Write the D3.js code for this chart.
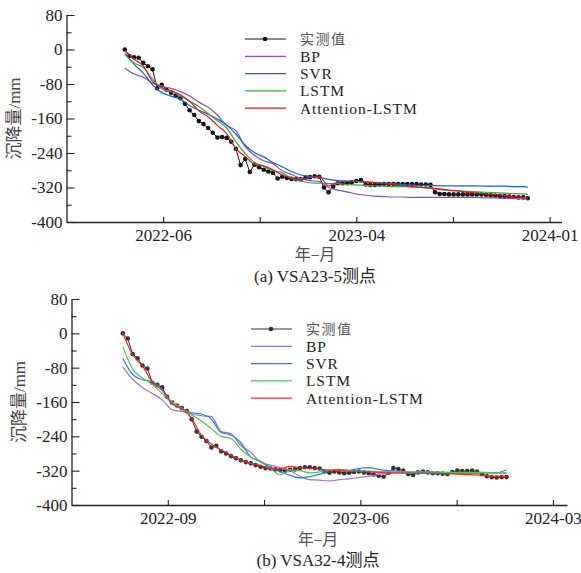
<!DOCTYPE html>
<html>
<head>
<meta charset="utf-8">
<script src="https://cdn.jsdelivr.net/npm/d3@7"></script>
<style>
  body { margin: 0; background: #fff; }
</style>
</head>
<body>
<script>
// ---- data (days relative to the first labelled tick) ----
let seriesNames = ["实测值", "BP", "SVR", "LSTM", "Attention-LSTM"];

// panel (a) VSA23-5
let tickDaysA = [0, 146, 292, 438, 584];
let tickLabelsA = ["2022-06", "", "2023-04", "", "2024-01"];
let measDaysA = d3.range(-58, 552, 7);
let measuredA = [0, -15, -18, -19, -31, -39, -46, -90, -82, -93,
  -100, -107, -113, -126, -141, -152, -166, -173, -182, -193,
  -204, -203, -205, -214, -230, -268, -254, -284, -267, -273,
  -279, -283, -286, -299, -295, -298, -300, -301, -301, -298,
  -296, -294, -295, -320, -331, -318, -310, -310, -310, -308,
  -305, -303, -313, -314, -314, -313, -312, -312, -312, -312,
  -312, -312, -312, -312, -313, -313, -314, -331, -335, -335,
  -336, -336, -336, -336, -336, -336, -336, -336, -337, -338,
  -339, -340, -340, -341, -342, -343, -343, -345];
let modelDaysA = d3.range(-58, 545, 14).concat([551]);
let bpA = [-43, -57, -64, -78, -85, -90, -97, -108, -122, -134,
  -152, -176, -188, -225, -245, -258, -265, -281, -290, -299,
  -304, -306, -320, -326, -330, -335, -338, -340, -341, -342,
  -342, -343, -343, -343, -343, -343, -343, -343, -343, -344,
  -344, -345, -345, -346, -347];
let svrA = [-8, -34, -55, -82, -100, -108, -115, -130, -141, -150,
  -161, -175, -196, -222, -239, -249, -262, -272, -283, -291,
  -294, -297, -301, -304, -305, -306, -307, -308, -310, -311,
  -313, -314, -315, -315, -316, -316, -316, -316, -316, -317,
  -317, -317, -318, -318, -319];
let lstmA = [-12, -31, -42, -68, -91, -98, -108, -120, -132, -149,
  -165, -182, -214, -241, -262, -271, -281, -286, -299, -305,
  -309, -310, -311, -311, -313, -314, -315, -316, -317, -318,
  -318, -319, -320, -322, -325, -327, -328, -329, -330, -331,
  -332, -333, -334, -335, -336];
let attA = [-2, -22, -38, -74, -88, -95, -105, -120, -142, -156,
  -176, -195, -230, -248, -266, -270, -279, -291, -297, -302,
  -297, -295, -316, -308, -306, -306, -307, -309, -311, -314,
  -316, -318, -320, -321, -323, -326, -328, -331, -333, -335,
  -336, -339, -341, -343, -345];

// panel (b) VSA32-4
let tickDaysB = [0, 137, 274, 411, 548];
let tickLabelsB = ["2022-09", "", "2023-06", "", "2024-03"];
let measDaysB = d3.range(-64, 483, 7);
let measuredB = [0, -12, -48, -58, -75, -82, -115, -120, -126, -148,
  -161, -168, -174, -181, -200, -229, -241, -251, -266, -262,
  -275, -280, -286, -291, -296, -300, -303, -307, -311, -314,
  -315, -317, -319, -320, -318, -317, -314, -312, -312, -314,
  -315, -322, -325, -322, -324, -326, -325, -323, -322, -324,
  -326, -329, -332, -334, -325, -314, -316, -320, -328, -330,
  -324, -322, -324, -326, -326, -327, -328, -323, -320, -321,
  -321, -320, -322, -328, -333, -335, -336, -335, -335];
let modelDaysB = d3.range(-64, 483, 14);
let bpB = [-78, -107, -126, -140, -155, -178, -182, -188, -192, -194,
  -229, -234, -262, -277, -300, -307, -313, -320, -333, -341,
  -342, -344, -341, -339, -336, -333, -329, -325, -325, -325,
  -325, -325, -325, -325, -325, -325, -325, -325, -325, -326];
let svrB = [-58, -96, -108, -113, -130, -162, -177, -185, -188, -200,
  -231, -237, -255, -288, -298, -312, -322, -331, -337, -334,
  -328, -320, -317, -319, -315, -313, -317, -320, -321, -323,
  -324, -325, -326, -326, -326, -326, -325, -325, -325, -318];
let lstmB = [-31, -83, -104, -119, -140, -160, -174, -190, -204, -222,
  -240, -245, -270, -288, -300, -315, -330, -318, -320, -325,
  -323, -318, -320, -321, -321, -321, -322, -322, -322, -323,
  -323, -323, -323, -324, -324, -324, -324, -324, -325, -325];
let attB = [0, -50, -76, -114, -133, -164, -175, -198, -238, -258,
  -272, -284, -296, -303, -308, -315, -316, -310, -313, -315,
  -317, -319, -320, -321, -322, -323, -324, -325, -325, -326,
  -326, -326, -326, -327, -328, -329, -330, -332, -333, -334];

let yTicks = [80, 0, -80, -160, -240, -320, -400];
let yMinor = [40, -40, -120, -200, -280, -360];

// ---- canvas ----
let width = 581, height = 573;
let serif = "'Liberation Serif', 'Times New Roman', serif";
let cjk = "'Noto Sans CJK SC', sans-serif";

let svg = d3.select("body")
  .append("svg")
  .attr("width", width)
  .attr("height", height)
  .style("background", "#fff");

function drawPanel(p) {
  let g = svg.append("g");

  let x = d3.scaleLinear().domain(p.xDomain).range(p.xRange);
  let y = d3.scaleLinear().domain([-400, 80]).range(p.yRange);

  // series lines (measured first, models on top)
  let line = d3.line().x(d => x(d[0])).y(d => y(d[1]));
  let smooth = d3.line().x(d => x(d[0])).y(d => y(d[1])).curve(d3.curveMonotoneX);
  let meas = p.measDays.map((d, i) => [d, p.measured[i]]);

  g.append("path")
    .datum(meas)
    .attr("d", line)
    .attr("fill", "none")
    .attr("stroke", p.colors[0])
    .attr("stroke-width", 1);

  g.selectAll(".dot")
    .data(meas)
    .enter()
    .append("circle")
    .attr("cx", d => x(d[0]))
    .attr("cy", d => y(d[1]))
    .attr("r", 2.3)
    .attr("fill", p.colors[0]);

  p.models.forEach((vals, k) => {
    g.append("path")
      .datum(p.modelDays.map((d, i) => [d, vals[i]]))
      .attr("d", smooth)
      .attr("fill", "none")
      .attr("stroke", p.colors[k + 1])
      .attr("stroke-width", 1.2);
  });

  // axes, ticks pointing inward
  g.append("g")
    .attr("transform", `translate(0,${p.yRange[0]})`)
    .call(d3.axisBottom(x)
      .tickValues(p.tickDays)
      .tickFormat((d, i) => p.tickLabels[i])
      .tickSize(-5)
      .tickSizeOuter(0)
      .tickPadding(7));

  let yAxis = g.append("g")
    .attr("transform", `translate(${p.xRange[0]},0)`)
    .call(d3.axisLeft(y)
      .tickValues(yTicks)
      .tickFormat(d3.format("d"))
      .tickSize(-8)
      .tickSizeOuter(0)
      .tickPadding(4));

  g.append("g")
    .attr("transform", `translate(${p.xRange[0]},0)`)
    .call(d3.axisLeft(y).tickValues(yMinor).tickFormat("").tickSize(-5).tickSizeOuter(0))
    .select(".domain").remove();

  g.selectAll(".domain").attr("stroke", "#222").attr("stroke-width", 1.3);
  g.selectAll(".tick line").attr("stroke", "#222").attr("stroke-width", 1.1);
  g.selectAll(".tick text")
    .attr("fill", "#222")
    .style("font-family", serif)
    .style("font-size", "17px");
  yAxis.selectAll(".tick text").text(d => d < 0 ? "-" + Math.abs(d) : d);

  // y axis title
  let yt = g.append("text")
    .attr("transform", `translate(${p.xRange[0] - 47},${(p.yRange[0] + p.yRange[1]) / 2}) rotate(-90)`)
    .attr("text-anchor", "middle")
    .attr("fill", "#444")
    .style("font-size", "17px");
  yt.append("tspan").style("font-family", cjk).text("沉降量");
  yt.append("tspan").style("font-family", serif).text("/mm");

  // x axis title and caption
  g.append("text")
    .attr("x", p.titleX)
    .attr("y", p.xTitleY)
    .attr("text-anchor", "middle")
    .attr("fill", "#555")
    .style("font-family", cjk)
    .style("font-size", "16px")
    .text("年–月");

  let cap = g.append("text")
    .attr("x", p.titleX)
    .attr("y", p.captionY)
    .attr("text-anchor", "middle")
    .attr("fill", "#222")
    .style("font-size", "17px");
  cap.append("tspan").style("font-family", serif).text(p.caption);
  cap.append("tspan").style("font-family", cjk).text("测点");

  // legend
  let legend = g.selectAll(".legend")
    .data(seriesNames)
    .enter().append("g")
    .attr("class", "legend")
    .attr("transform", (d, i) => `translate(${p.legendX}, ${p.legendY + i * 17.3})`);

  legend.append("line")
    .attr("x1", 0).attr("x2", 41)
    .attr("stroke", (d, i) => p.colors[i])
    .attr("stroke-width", (d, i) => i === 0 ? 1.2 : 1.3);

  legend.filter((d, i) => i === 0)
    .append("circle")
    .attr("cx", 20).attr("r", 2.3)
    .attr("fill", p.colors[0]);

  legend.append("text")
    .attr("x", 55)
    .attr("dy", "0.35em")
    .attr("fill", (d, i) => i === 0 ? "#555" : "#222")
    .style("font-family", (d, i) => i === 0 ? cjk : serif)
    .style("font-size", (d, i) => i === 0 ? "14px" : "15.5px")
    .style("letter-spacing", (d, i) => i === 0 ? "1.5px" : "0.9px")
    .text(d => d);
}

drawPanel({
  xDomain: [-146, 602], xRange: [66.5, 561.5], yRange: [222, 15],
  tickDays: tickDaysA, tickLabels: tickLabelsA,
  measDays: measDaysA, measured: measuredA,
  modelDays: modelDaysA, models: [bpA, svrA, lstmA, attA],
  colors: ["#141414", "#8450bd", "#1565c4", "#33aa44", "#e4161c"],
  legendX: 245, legendY: 39,
  titleX: 315, xTitleY: 260, captionY: 282, caption: "(a) VSA23-5"
});

drawPanel({
  xDomain: [-137, 568], xRange: [71.5, 567], yRange: [505, 299],
  tickDays: tickDaysB, tickLabels: tickLabelsB,
  measDays: measDaysB, measured: measuredB,
  modelDays: modelDaysB, models: [bpB, svrB, lstmB, attB],
  colors: ["#333333", "#9b74c8", "#1f83d6", "#5cbb5c", "#f02a2a"],
  legendX: 251, legendY: 329,
  titleX: 318, xTitleY: 545, captionY: 566, caption: "(b) VSA32-4"
});
</script>
</body>
</html>
